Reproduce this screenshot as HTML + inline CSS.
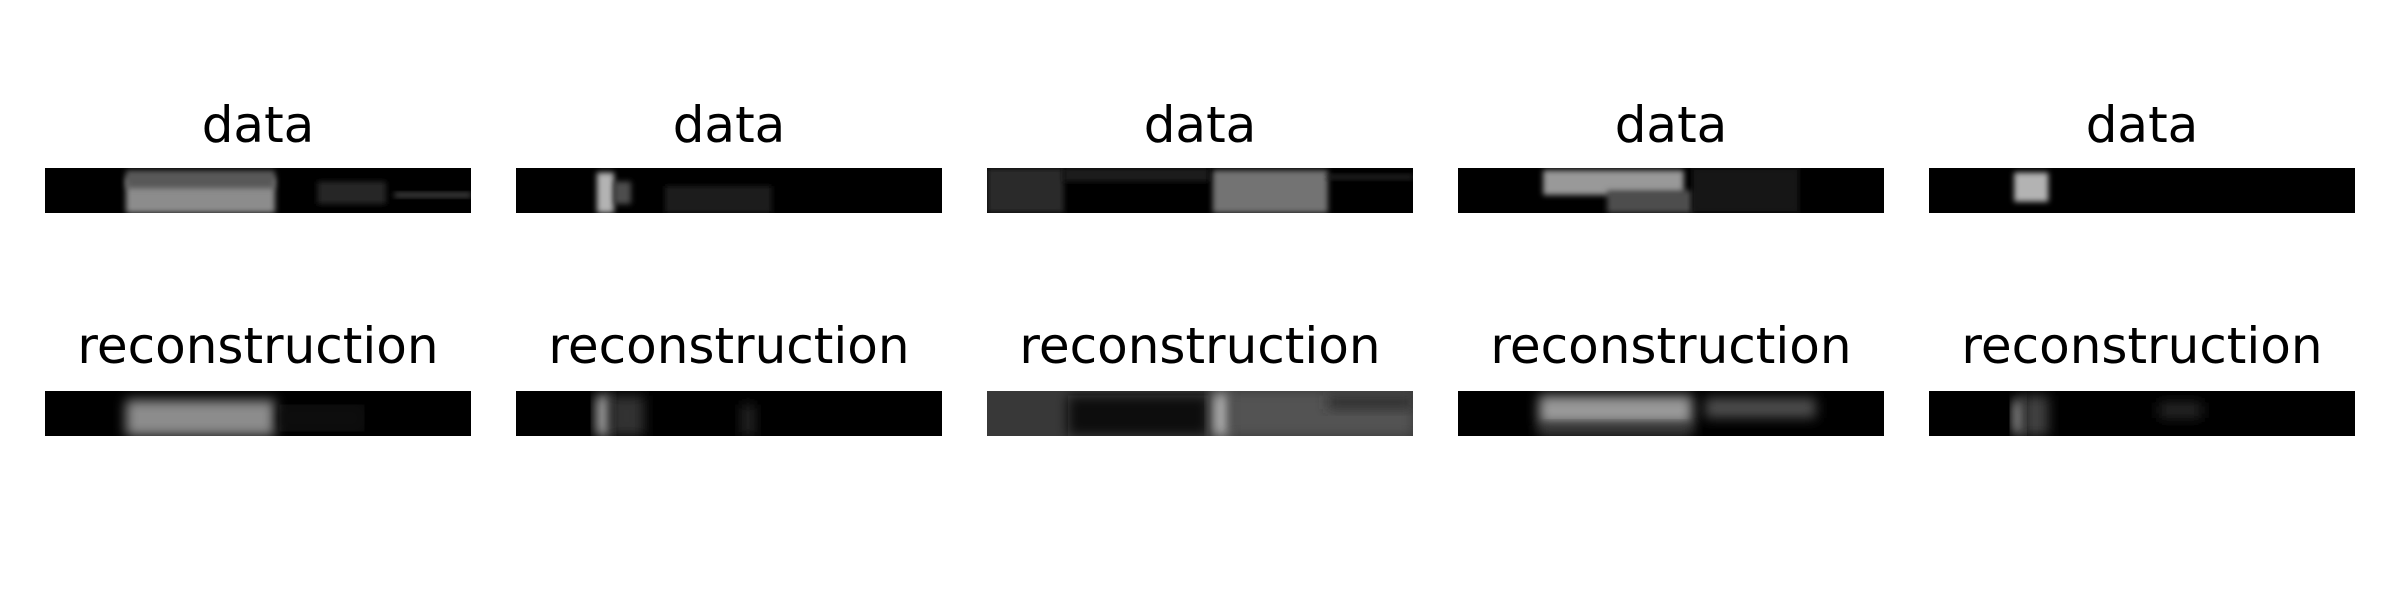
<!DOCTYPE html>
<html><head><meta charset="utf-8"><style>
html,body{margin:0;padding:0;background:#fff;width:2400px;height:600px;overflow:hidden}
svg{display:block}
text{font-family:"DejaVu Sans","Liberation Sans",sans-serif;font-size:50px;fill:#000}
</style></head><body>
<svg id="fig" width="2400" height="600" viewBox="0 0 2400 600">
<defs>
<filter id="b1" x="-50%" y="-50%" width="200%" height="200%"><feGaussianBlur stdDeviation="3"/></filter>
<filter id="b2" x="-50%" y="-50%" width="200%" height="200%"><feGaussianBlur stdDeviation="6"/></filter>
</defs>
</svg>
<script>
const panelLefts = [45, 516, 987, 1458, 1929];
const rowTitles = ["data", "reconstruction"];
// background gray level per panel [data, reconstruction]
const bgLevels = [[0,0],[0,0],[0,0.22],[0,0],[0,0]];
// blobs: [x0, x1, y0, y1, intensity] in panel fractions
const dataBlobs = [
  [[0.19,0.54,0.2,1,0.55],[0.19,0.54,0.05,0.45,0.35],[0.64,0.8,0.3,0.8,0.15],[0.82,1,0.55,0.65,0.3]],
  [[0.19,0.23,0.1,1,0.7],[0.23,0.27,0.3,0.8,0.3],[0.35,0.6,0.4,1,0.12]],
  [[0,0.18,0,1,0.17],[0.18,0.52,0,0.3,0.1],[0.53,0.8,0.05,1,0.45],[0.8,1,0.15,0.25,0.15]],
  [[0.2,0.53,0.05,0.6,0.6],[0.35,0.55,0.5,1,0.3],[0.55,0.8,0,1,0.08]],
  [[0.2,0.28,0.1,0.75,0.7]]
];
const reconBlobs = [
  [[0.19,0.54,0.2,1,0.55],[0.55,0.75,0.3,0.9,0.06]],
  [[0.19,0.22,0.1,1,0.75],[0.22,0.3,0.1,1,0.2],[0.53,0.56,0.3,1,0.15]],
  [[0.19,0.52,0.1,1,0.03],[0.53,0.57,0.05,1,0.7],[0.57,1,0,1,0.32],[0.8,1,0.1,0.4,0.18]],
  [[0.19,0.55,0.1,0.75,0.6],[0.19,0.55,0.75,1,0.25],[0.58,0.84,0.15,0.6,0.3]],
  [[0.2,0.22,0.2,0.95,0.8],[0.22,0.28,0.1,1,0.25],[0.54,0.64,0.25,0.6,0.15]]
];
const NS = "http://www.w3.org/2000/svg";
const svg = document.getElementById("fig");
const panelW = 426, panelH = 45;
const rowTops = [168, 391];
const titleBase = [142, 363];
function sx(p, f){ return panelLefts[p] + f*panelW; }
function sy(r, f){ return rowTops[r] + f*panelH; }
function gray(v){ const c=Math.round(Math.max(0,Math.min(1,v))*255); return `rgb(${c},${c},${c})`; }
for (let p=0;p<panelLefts.length;p++){
  for (let r=0;r<2;r++){
    const t=document.createElementNS(NS,"text");
    t.setAttribute("x", sx(p,0.5)); t.setAttribute("y", titleBase[r]);
    t.setAttribute("text-anchor","middle");
    t.textContent=rowTitles[r];
    
    
    svg.appendChild(t);
    const cid="c"+p+"_"+r;
    const cp=document.createElementNS(NS,"clipPath"); cp.setAttribute("id",cid);
    const cr=document.createElementNS(NS,"rect");
    cr.setAttribute("x",sx(p,0)); cr.setAttribute("y",sy(r,0));
    cr.setAttribute("width",panelW); cr.setAttribute("height",panelH);
    cp.appendChild(cr); svg.querySelector("defs").appendChild(cp);
    const g=document.createElementNS(NS,"g");
    g.setAttribute("clip-path","url(#"+cid+")");
    
    
    const bg=document.createElementNS(NS,"rect");
    bg.setAttribute("x",sx(p,0)); bg.setAttribute("y",sy(r,0));
    bg.setAttribute("width",panelW); bg.setAttribute("height",panelH);
    bg.setAttribute("fill",gray(bgLevels[p][r]));
    g.appendChild(bg);
    const blobs = r===0 ? dataBlobs[p] : reconBlobs[p];
    for (const b of blobs){
      const rc=document.createElementNS(NS,"rect");
      rc.setAttribute("x",sx(p,b[0])); rc.setAttribute("y",sy(r,b[2]));
      rc.setAttribute("width",(b[1]-b[0])*panelW); rc.setAttribute("height",(b[3]-b[2])*panelH);
      rc.setAttribute("fill",gray(b[4]));
      rc.setAttribute("filter", r===0 ? "url(#b1)" : "url(#b2)");
      
      
      g.appendChild(rc);
    }
    svg.appendChild(g);
  }
}
</script>
</body></html>
